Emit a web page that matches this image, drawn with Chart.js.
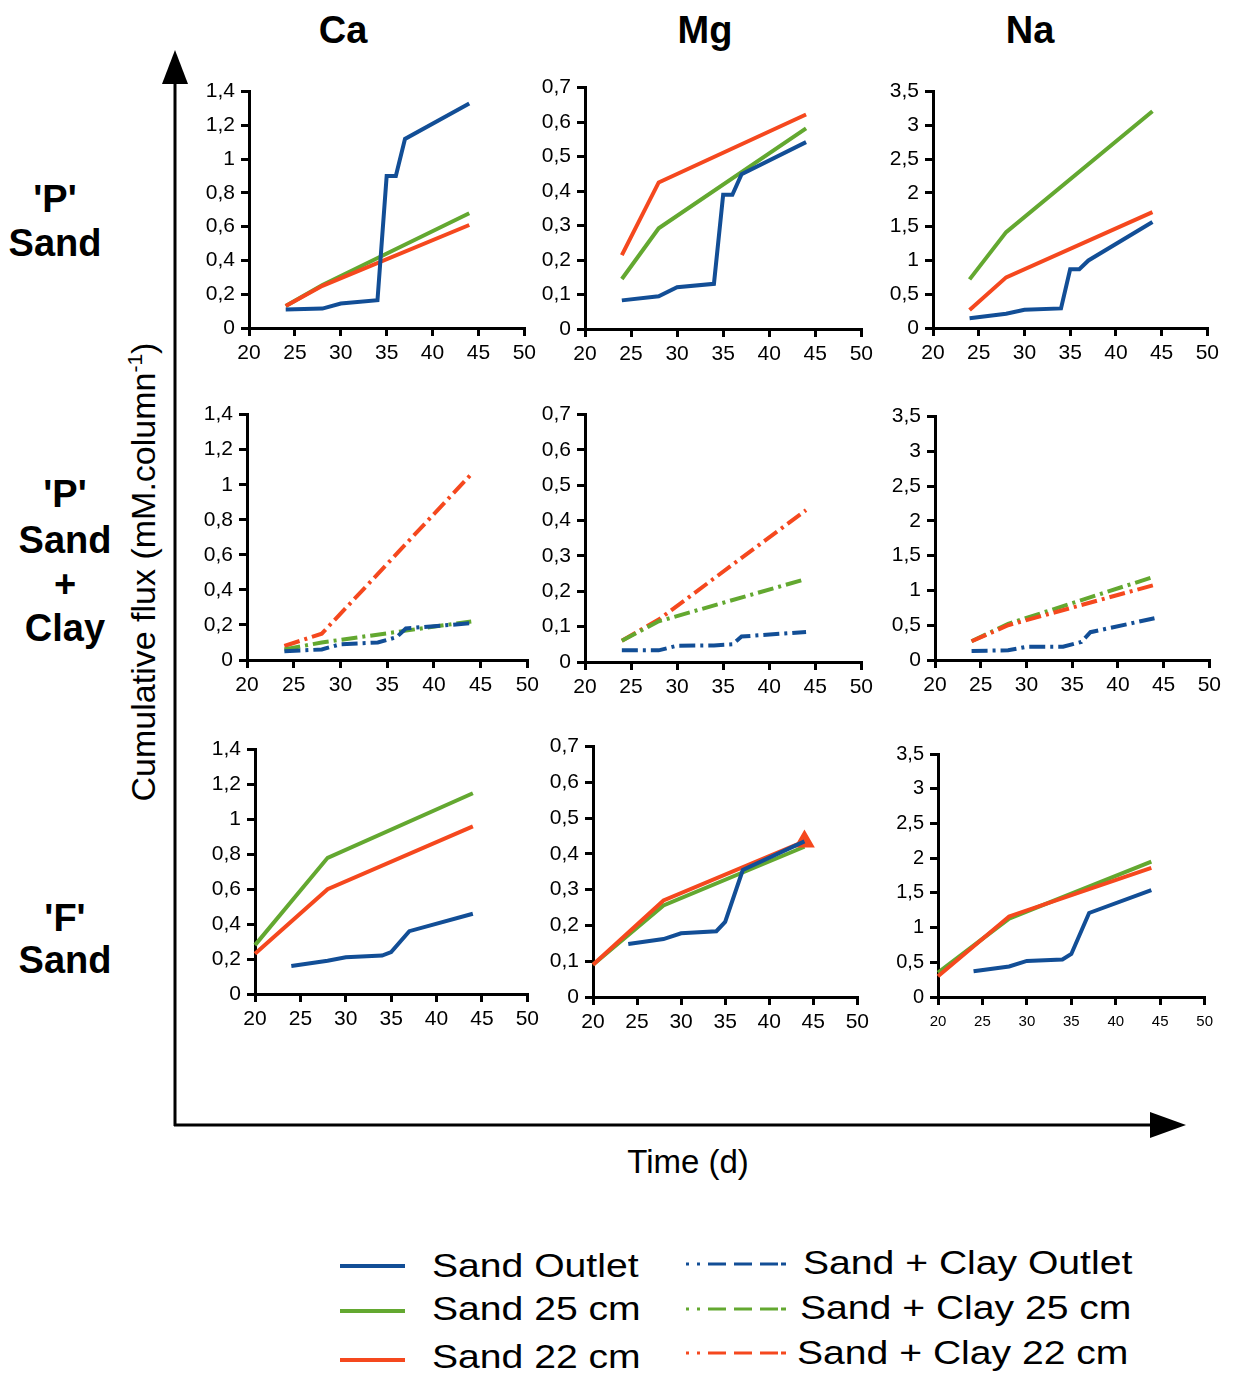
<!DOCTYPE html>
<html>
<head>
<meta charset="utf-8">
<script src="https://cdn.jsdelivr.net/npm/chart.js@4.4.0/dist/chart.umd.min.js"></script>
<style>
  body { margin: 0; background: #fff; }
  #page { position: relative; width: 1233px; height: 1373px; overflow: hidden; font-family: "Liberation Sans", Arial, sans-serif; color: #000; }
  canvas { position: absolute; }
  .lbl { position: absolute; transform: translate(-50%, -50%); white-space: nowrap; }
  .b38 { font-weight: bold; font-size: 38px; }
  .leg { position: absolute; font-size: 34px; white-space: nowrap; transform-origin: left center; transform: translateY(-50%) scaleX(1.15); }
  svg { position: absolute; left: 0; top: 0; }
</style>
</head>
<body>
<div id="page">
  <svg width="1233" height="1373">
    <line x1="175" y1="1126" x2="175" y2="78" stroke="#000" stroke-width="3"/>
    <polygon points="175,50 162,84 188,84" fill="#000"/>
    <line x1="174" y1="1125" x2="1155" y2="1125" stroke="#000" stroke-width="3"/>
    <polygon points="1186,1125 1150,1112 1150,1138" fill="#000"/>

    <line x1="340" y1="1266" x2="405" y2="1266" stroke="#124e96" stroke-width="4"/>
    <line x1="340" y1="1311" x2="405" y2="1311" stroke="#63a830" stroke-width="4"/>
    <line x1="340" y1="1360" x2="405" y2="1360" stroke="#f5481e" stroke-width="4"/>
    <line x1="686" y1="1264" x2="786" y2="1264" stroke="#124e96" stroke-width="3" stroke-dasharray="3,8,3,8,18,8,18,8,18"/>
    <line x1="686" y1="1309" x2="786" y2="1309" stroke="#63a830" stroke-width="3" stroke-dasharray="3,8,3,8,18,8,18,8,18"/>
    <line x1="686" y1="1353" x2="786" y2="1353" stroke="#f5481e" stroke-width="3" stroke-dasharray="3,8,3,8,18,8,18,8,18"/>
  </svg>

  <div class="lbl b38" style="left:343px; top:30px;">Ca</div>
  <div class="lbl b38" style="left:705px; top:30px;">Mg</div>
  <div class="lbl b38" style="left:1030px; top:30px;">Na</div>

  <div class="lbl b38" style="left:55px; top:199px;">'P'</div>
  <div class="lbl b38" style="left:55px; top:243px;">Sand</div>
  <div class="lbl b38" style="left:65px; top:494px;">'P'</div>
  <div class="lbl b38" style="left:65px; top:540px;">Sand</div>
  <div class="lbl b38" style="left:65px; top:584px;">+</div>
  <div class="lbl b38" style="left:65px; top:628px;">Clay</div>
  <div class="lbl b38" style="left:65px; top:918px;">'F'</div>
  <div class="lbl b38" style="left:65px; top:960px;">Sand</div>

  <div class="lbl" style="left:143px; top:572px; font-size:34px; transform: translate(-50%, -50%) rotate(-90deg);">Cumulative flux (mM.column<sup style="font-size:21px;">-1</sup>)</div>
  <div class="lbl" style="left:688px; top:1162px; font-size:33px;">Time (d)</div>

  <div class="leg" style="left:432px; top:1265px;">Sand Outlet</div>
  <div class="leg" style="left:432px; top:1308px;">Sand 25 cm</div>
  <div class="leg" style="left:432px; top:1356px;">Sand 22 cm</div>
  <div class="leg" style="left:803px; top:1262px;">Sand + Clay Outlet</div>
  <div class="leg" style="left:800px; top:1307px;">Sand + Clay 25 cm</div>
  <div class="leg" style="left:797px; top:1352px;">Sand + Clay 22 cm</div>
</div>

<script>
// ---- data ----
const xTicks = [20, 25, 30, 35, 40, 45, 50];

// 'P' Sand
const pSandOutletDays = [24, 28, 30, 34, 35, 36, 37, 44];
const pSandDepthDays = [24, 28, 44];
const caPSandOutlet = [0.11, 0.115, 0.145, 0.165, 0.90, 0.90, 1.12, 1.33];
const caPSand25 = [0.13, 0.255, 0.68];
const caPSand22 = [0.13, 0.25, 0.61];
const mgPSandOutlet = [0.083, 0.095, 0.121, 0.131, 0.389, 0.389, 0.449, 0.542];
const mgPSand25 = [0.145, 0.292, 0.582];
const mgPSand22 = [0.214, 0.425, 0.622];
const naPSandOutlet = [0.145, 0.21, 0.27, 0.29, 0.87, 0.87, 1.0, 1.57];
const naPSand25 = [0.72, 1.42, 3.21];
const naPSand22 = [0.265, 0.75, 1.715];

// 'P' Sand + Clay
const pClayOutletDays = [24, 28, 30, 34, 36, 37, 44];
const pClayDepthDays = [24, 28, 44];
const caPClayOutlet = [0.05, 0.06, 0.09, 0.10, 0.13, 0.18, 0.21];
const caPClay25 = [0.06, 0.10, 0.22];
const caPClay22 = [0.08, 0.15, 1.06];
const mgPClayOutlet = [0.033, 0.033, 0.046, 0.047, 0.05, 0.072, 0.085];
const mgPClay25 = [0.06, 0.115, 0.235];
const mgPClay22 = [0.06, 0.12, 0.43];
const naPClayOutlet = [0.13, 0.14, 0.19, 0.19, 0.26, 0.40, 0.60];
const naPClay25 = [0.27, 0.52, 1.2];
const naPClay22 = [0.27, 0.50, 1.08];

// 'F' Sand
const fSandOutletDays = [24, 28, 30, 34, 35, 37, 44];
const fSandDepthDays = [20, 28, 44];
const caFSandOutlet = [0.16, 0.19, 0.21, 0.22, 0.24, 0.36, 0.46];
const caFSand25 = [0.28, 0.78, 1.15];
const caFSand22 = [0.23, 0.60, 0.96];
const mgFSandOutlet = [0.148, 0.162, 0.178, 0.184, 0.21, 0.355, 0.435];
const mgFSand25 = [0.09, 0.256, 0.42];
const mgFSand22 = [0.09, 0.27, 0.435];
const naFSandOutlet = [0.37, 0.44, 0.52, 0.54, 0.62, 1.21, 1.54];
const naFSand25 = [0.35, 1.13, 1.95];
const naFSand22 = [0.30, 1.16, 1.86];

// ---- styling ----
const BLUE = '#124e96', GREEN = '#63a830', RED = '#f5481e';
const DASH = [16, 5, 3, 5];
const AX_W = 62, AX_H = 42, PAD_T = 14, PAD_R = 16;

function pts(days, vals) {
    return days.map((d, i) => ({x: d, y: vals[i]}));
}
function fmt(v) {
    return String(Math.round(v * 10) / 10).replace('.', ',');
}

var panels = [
    {x20: 249, x50: 525, yTop: 87, y0: 328, max: 1.4, step: 0.2,
     s: [[pSandOutletDays, caPSandOutlet, BLUE], [pSandDepthDays, caPSand22, RED], [pSandDepthDays, caPSand25, GREEN]]},
    {x20: 585, x50: 862, yTop: 83, y0: 329, max: 0.7, step: 0.1,
     s: [[pSandOutletDays, mgPSandOutlet, BLUE], [pSandDepthDays, mgPSand25, GREEN], [pSandDepthDays, mgPSand22, RED]]},
    {x20: 933, x50: 1208, yTop: 87, y0: 328, max: 3.5, step: 0.5,
     s: [[pSandOutletDays, naPSandOutlet, BLUE], [pSandDepthDays, naPSand25, GREEN], [pSandDepthDays, naPSand22, RED]]},

    {x20: 247, x50: 528, yTop: 410, y0: 660, max: 1.4, step: 0.2, dash: true,
     s: [[pClayOutletDays, caPClayOutlet, BLUE], [pClayDepthDays, caPClay25, GREEN], [pClayDepthDays, caPClay22, RED]]},
    {x20: 585, x50: 862, yTop: 410, y0: 662, max: 0.7, step: 0.1, dash: true,
     s: [[pClayOutletDays, mgPClayOutlet, BLUE], [pClayDepthDays, mgPClay25, GREEN], [pClayDepthDays, mgPClay22, RED]]},
    {x20: 935, x50: 1210, yTop: 412, y0: 660, max: 3.5, step: 0.5, dash: true,
     s: [[pClayOutletDays, naPClayOutlet, BLUE], [pClayDepthDays, naPClay22, RED], [pClayDepthDays, naPClay25, GREEN]]},

    {x20: 255, x50: 528, yTop: 745, y0: 994, max: 1.4, step: 0.2,
     s: [[fSandOutletDays, caFSandOutlet, BLUE], [fSandDepthDays, caFSand25, GREEN], [fSandDepthDays, caFSand22, RED]]},
    {x20: 593, x50: 858, yTop: 742, y0: 997, max: 0.7, step: 0.1, marker: true,
     s: [[fSandOutletDays, mgFSandOutlet, BLUE], [fSandDepthDays, mgFSand22, RED], [fSandDepthDays, mgFSand25, GREEN]]},
    {x20: 938, x50: 1205, yTop: 750, y0: 997, max: 3.5, step: 0.5, small: true,
     s: [[fSandOutletDays, naFSandOutlet, BLUE], [fSandDepthDays, naFSand22, RED], [fSandDepthDays, naFSand25, GREEN]]}
];

var page = document.getElementById('page');

panels.forEach(function (p) {
    var c = document.createElement('canvas');
    c.width = (p.x50 - p.x20) + AX_W + PAD_R;
    c.height = (p.y0 - p.yTop) + PAD_T + AX_H;
    c.style.left = (p.x20 - AX_W) + 'px';
    c.style.top = (p.yTop - PAD_T) + 'px';
    page.appendChild(c);

    var datasets = p.s.map(function (s) {
        var ds = {
            data: pts(s[0], s[1]),
            borderColor: s[2],
            backgroundColor: s[2],
            borderWidth: 4,
            borderDash: p.dash ? DASH : [],
            pointRadius: 0,
            tension: 0,
            clip: false
        };
        if (p.marker && s[2] === RED) {
            ds.pointStyle = 'triangle';
            ds.pointRadius = s[0].map((d, i) => i === s[0].length - 1 ? 8 : 0);
        }
        return ds;
    });

    var axisGrid = {
        display: true,
        drawOnChartArea: false,
        drawTicks: true,
        tickLength: 8,
        color: '#000',
        lineWidth: 3
    };

    new Chart(c.getContext('2d'), {
        type: 'line',
        data: {datasets: datasets},
        options: {
            responsive: false,
            animation: false,
            devicePixelRatio: 1,
            layout: {padding: {top: PAD_T, right: PAD_R, left: 0, bottom: 0}},
            plugins: {legend: {display: false}, tooltip: {enabled: false}},
            scales: {
                x: {
                    type: 'linear',
                    min: 20,
                    max: 50,
                    afterFit: s => { s.height = AX_H; },
                    afterBuildTicks: s => { s.ticks = xTicks.map(v => ({value: v})); },
                    border: {display: true, color: '#000', width: 3},
                    grid: axisGrid,
                    ticks: {
                        color: '#000',
                        padding: p.small ? 8 : 5,
                        maxRotation: 0,
                        autoSkip: false,
                        font: {family: 'Liberation Sans', size: p.small ? 15 : 21}
                    }
                },
                y: {
                    type: 'linear',
                    min: 0,
                    max: p.max,
                    afterFit: s => { s.width = AX_W; },
                    border: {display: true, color: '#000', width: 3},
                    grid: axisGrid,
                    ticks: {
                        stepSize: p.step,
                        color: '#000',
                        padding: 6,
                        autoSkip: false,
                        callback: v => fmt(v),
                        font: {family: 'Liberation Sans', size: p.small ? 20 : 21}
                    }
                }
            }
        }
    });
});
</script>
</body>
</html>
